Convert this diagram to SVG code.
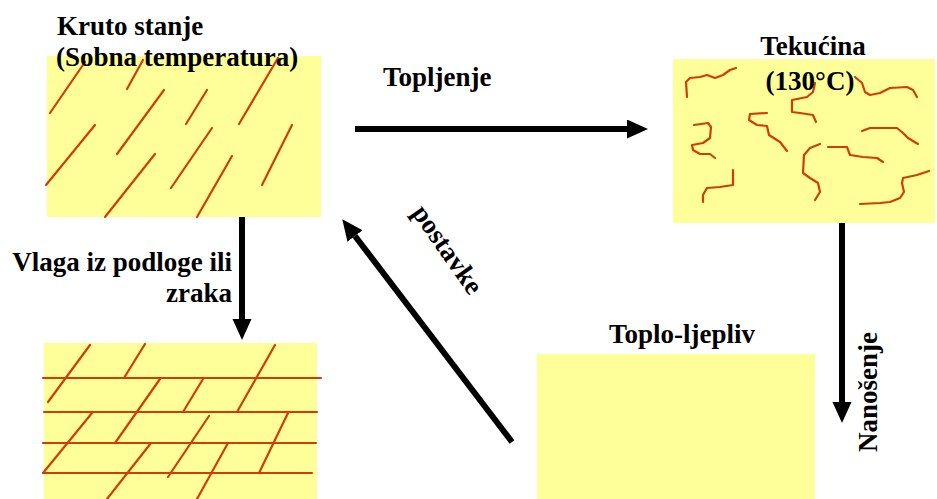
<svg xmlns="http://www.w3.org/2000/svg" width="937" height="499" viewBox="0 0 937 499">
<defs>
<marker id="ah" markerUnits="userSpaceOnUse" markerWidth="22" markerHeight="20" refX="0" refY="9.5" orient="auto"><path d="M0,0 L21,9.5 L0,19 Z" fill="#000"/></marker>
<style>
.box{fill:#FFFF99}
.t{font-family:"Liberation Serif","Times New Roman",serif;font-weight:bold;font-size:27px;fill:#000}
.r{stroke:#D23C0A;stroke-width:2.2;fill:none;stroke-linecap:round;stroke-linejoin:round}
.c{stroke:#000;stroke-width:6;fill:none}
</style>
</defs>
<rect width="937" height="499" fill="#fff"/>

<g id="solid">
<rect class="box" x="47" y="56" width="274" height="161"/>
<g class="r">
<line x1="85" y1="62" x2="50" y2="113"/>
<line x1="143" y1="60" x2="127" y2="89"/>
<line x1="164" y1="90" x2="117" y2="154"/>
<line x1="207" y1="90" x2="186" y2="124"/>
<line x1="278" y1="58" x2="239" y2="124"/>
<line x1="95" y1="125" x2="46" y2="185"/>
<line x1="212" y1="128" x2="171" y2="188"/>
<line x1="292" y1="125" x2="262" y2="185"/>
<line x1="155" y1="154" x2="105" y2="217"/>
<line x1="232" y1="156" x2="197" y2="217"/>
</g>
<text class="t" x="57" y="35">Kruto stanje</text>
<text class="t" x="56" y="66">(Sobna temperatura)</text>
</g>

<g id="liquid">
<rect class="box" x="673" y="59" width="262" height="164"/>
<g class="r">
<polyline points="687,97 686,82 690,78 700,77 707,75 715,78 723,75 730,70 736,68"/>
<polyline points="815,83 813,92 807,97 792,100 792,112 800,113 813,115 816,122"/>
<polyline points="855,77 862,83 865,92 870,95 880,93 890,88 907,87 913,90 917,97"/>
<polyline points="694,125 708,123 711,127 710,138 703,143 692,145 693,150 700,154 710,154 715,158"/>
<polyline points="767,113 750,114 749,120 757,125 767,126 769,135 780,142 787,151"/>
<polyline points="862,131 870,128 897,128 903,133 908,138 918,144"/>
<polyline points="820,144 810,148 804,155 803,173 810,178 818,183 820,192 815,200"/>
<polyline points="828,147 847,147 850,155 863,157 877,158 883,162"/>
<polyline points="733,170 733,185 720,187 707,188 703,195 703,202"/>
<polyline points="929,171 917,175 903,178 902,183 904,192 900,198 890,202 880,203 860,204"/>
</g>
<text class="t" x="813" y="55" text-anchor="middle">Tekućina</text>
<text class="t" x="810" y="90" text-anchor="middle">(130°C)</text>
</g>

<g id="cured">
<rect class="box" x="44" y="343" width="273" height="156"/>
<g class="r">
<line x1="43" y1="378" x2="321" y2="378"/>
<line x1="44" y1="412" x2="317" y2="412"/>
<line x1="43" y1="443" x2="316" y2="443"/>
<line x1="43" y1="473" x2="312" y2="473"/>
<line x1="90" y1="345" x2="48" y2="402"/>
<line x1="145" y1="344" x2="124" y2="378"/>
<line x1="275" y1="345" x2="237" y2="412"/>
<line x1="160" y1="379" x2="115" y2="443"/>
<line x1="203" y1="379" x2="183" y2="412"/>
<line x1="92" y1="413" x2="43" y2="473"/>
<line x1="209" y1="416" x2="168" y2="477"/>
<line x1="288" y1="413" x2="259" y2="473"/>
<line x1="151" y1="443" x2="107" y2="499"/>
<line x1="228" y1="443" x2="197" y2="499"/>
</g>
</g>

<g id="hotmelt">
<rect class="box" x="537" y="354" width="278" height="145"/>
<text class="t" x="682" y="343" text-anchor="middle">Toplo-ljepliv</text>
</g>

<g id="connectors">
<line class="c" x1="355" y1="129" x2="627" y2="129" stroke-width="7" marker-end="url(#ah)"/>
<text class="t" x="383" y="86">Topljenje</text>
<line class="c" x1="842" y1="223" x2="842" y2="402" marker-end="url(#ah)"/>
<text class="t" transform="translate(877,392) rotate(-90)" x="0" y="0" text-anchor="middle">Nanošenje</text>
<line class="c" x1="242" y1="217" x2="242" y2="319" marker-end="url(#ah)"/>
<text class="t" x="232" y="271" text-anchor="end">Vlaga iz podloge ili</text>
<text class="t" x="232" y="302" text-anchor="end">zraka</text>
<line class="c" x1="512" y1="442" x2="355" y2="236" marker-end="url(#ah)"/>
<text class="t" transform="translate(447,250) rotate(55)" x="0" y="8" text-anchor="middle">postavke</text>
</g>
</svg>
